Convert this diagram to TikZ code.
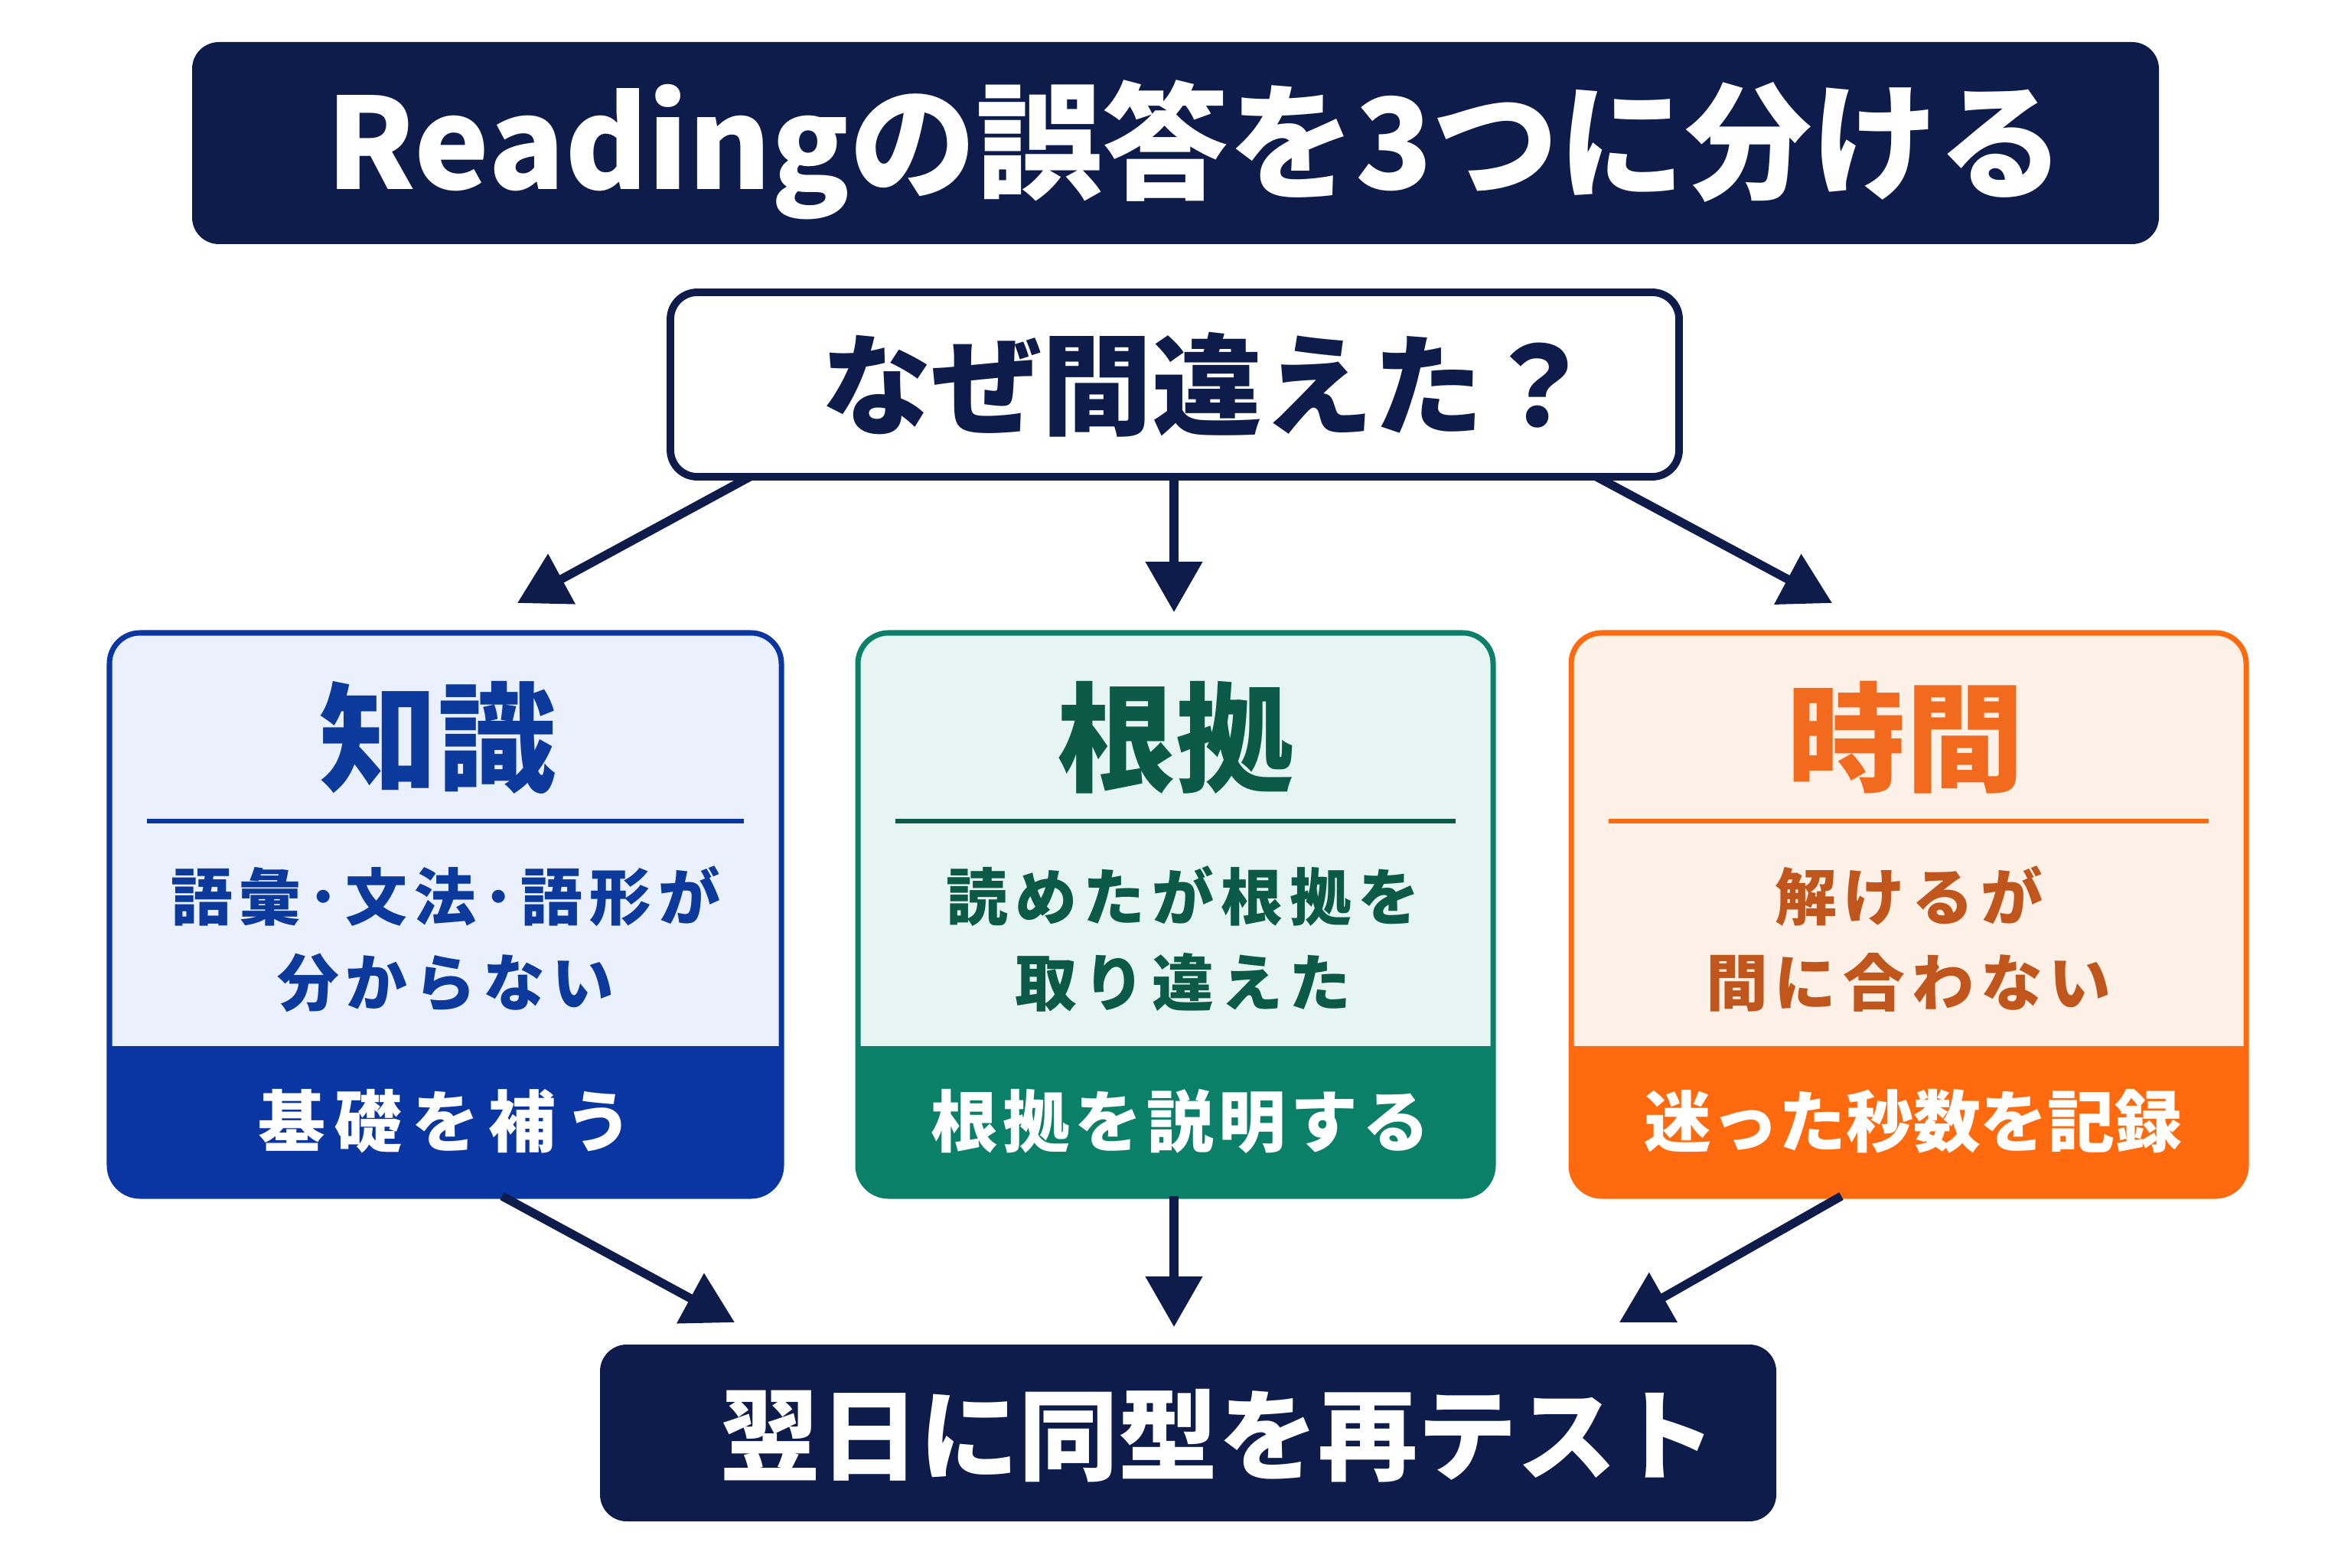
\documentclass[tikz,border=0pt]{standalone}
\usepackage{fontspec}
\setmainfont{Noto Sans CJK JP}
\newfontfamily\spacedfont{Noto Sans CJK JP}[LetterSpace=11]
\usetikzlibrary{arrows.meta,calc}

\definecolor{navy}{HTML}{0E1C4B}
\definecolor{kblue}{HTML}{0A36A3}
\definecolor{kblueT}{HTML}{0C3A9C}
\definecolor{kblueL}{HTML}{EAF1FC}
\definecolor{egreen}{HTML}{0B8069}
\definecolor{egreenT}{HTML}{0B5A47}
\definecolor{egreenL}{HTML}{E6F5F1}
\definecolor{torange}{HTML}{FF6A0E}
\definecolor{torangeT}{HTML}{F26A1E}
\definecolor{torangeB}{HTML}{C0561B}
\definecolor{torangeL}{HTML}{FDF0E7}

\begin{document}
\begin{tikzpicture}[
	flow/.style={line width=3.2pt, navy, -{Triangle[length=0.66cm,width=0.72cm]}},
	darkbox/.style={rounded corners=0.35cm, fill=navy, inner sep=0pt},
	catbox/.style={minimum height=7.36cm, inner sep=0pt, outer sep=0pt},
	cattitle/.style={font=\fontsize{44}{48}\bfseries\selectfont},
	catbody/.style={align=center, font=\spacedfont\fontsize{23}{31.8}\bfseries\selectfont},
	catband/.style={text=white, font=\fontsize{25}{28}\bfseries\selectfont},
	]
	\useasboundingbox (0,0) rectangle (30.72,20.48);
	\fill[white] (0,0) rectangle (30.72,20.48);

	% title and question
	\node[darkbox, minimum width=25.70cm, minimum height=2.64cm] (title) at (15.36,18.61) {};
	\node[text=white] (titleT) at (15.62,18.52)
		{\fontsize{47}{50}\bfseries\selectfont Readingの誤答を3つに分ける};
	\node[rounded corners=0.35cm, draw=navy, line width=2.8pt, fill=white,
		minimum width=13.18cm, minimum height=2.41cm] (why) at (15.35,15.455) {};
	\node[text=navy] (whyT) at (15.78,15.45)
		{\fontsize{41}{44}\bfseries\selectfont なぜ間違えた？};

	% knowledge box
	\node[catbox, minimum width=8.78cm] (chishiki) at (5.82,8.53) {};
	\fill[kblueL, rounded corners=0.4cm] (chishiki.south west) rectangle (chishiki.north east);
	\begin{scope}
		\clip[rounded corners=0.4cm] (chishiki.south west) rectangle (chishiki.north east);
		\fill[kblue] (chishiki.south west) rectangle ($(chishiki.south east)+(0,1.96)$);
	\end{scope}
	\draw[kblue, line width=2pt, rounded corners=0.4cm] (chishiki.south west) rectangle (chishiki.north east);
	\draw[kblue, line width=1.5pt] ($(chishiki.west)+(0.49,1.22)$) -- ($(chishiki.east)+(-0.49,1.22)$);
	\node[cattitle, text=kblueT] (chishikiT) at (5.72,10.84) {知識};
	\node[catbody, text=kblueT] (chishikiB) at (5.82,8.21) {語彙･文法･語形が\\分からない};
	\node[catband] (chishikiA) at (5.82,5.83) {\addfontfeature{LetterSpace=14}基礎を補う};

	% evidence box
	\node[catbox, minimum width=8.30cm] (konkyo) at (15.36,8.53) {};
	\fill[egreenL, rounded corners=0.4cm] (konkyo.south west) rectangle (konkyo.north east);
	\begin{scope}
		\clip[rounded corners=0.4cm] (konkyo.south west) rectangle (konkyo.north east);
		\fill[egreen] (konkyo.south west) rectangle ($(konkyo.south east)+(0,1.96)$);
	\end{scope}
	\draw[egreen, line width=2pt, rounded corners=0.4cm] (konkyo.south west) rectangle (konkyo.north east);
	\draw[egreenT, line width=1.5pt] ($(konkyo.west)+(0.49,1.22)$) -- ($(konkyo.east)+(-0.49,1.22)$);
	\node[cattitle, text=egreenT] (konkyoT) at (15.36,10.84) {根拠};
	\node[catbody, text=egreenT] (konkyoB) at (15.46,8.21) {読めたが根拠を\\取り違えた};
	\node[catband] (konkyoA) at (15.42,5.83) {\addfontfeature{LetterSpace=7}根拠を説明する};

	% time box
	\node[catbox, minimum width=8.82cm] (jikan) at (24.94,8.53) {};
	\fill[torangeL, rounded corners=0.4cm] (jikan.south west) rectangle (jikan.north east);
	\begin{scope}
		\clip[rounded corners=0.4cm] (jikan.south west) rectangle (jikan.north east);
		\fill[torange] (jikan.south west) rectangle ($(jikan.south east)+(0,1.96)$);
	\end{scope}
	\draw[torange, line width=2pt, rounded corners=0.4cm] (jikan.south west) rectangle (jikan.north east);
	\draw[torange, line width=1.5pt] ($(jikan.west)+(0.49,1.22)$) -- ($(jikan.east)+(-0.49,1.22)$);
	\node[cattitle, text=torangeT] (jikanT) at (24.90,10.84) {時間};
	\node[catbody, text=torangeB] (jikanB) at (24.94,8.21) {解けるが\\間に合わない};
	\node[catband] (jikanA) at (25.00,5.83) {迷った秒数を記録};

	% retest
	\node[darkbox, minimum width=15.37cm, minimum height=2.31cm] (retest) at (15.525,1.755) {};
	\node[text=white] (retestT) at (15.92,1.72)
		{\fontsize{37}{40}\bfseries\selectfont 翌日に同型を再テスト};

	% arrows
	\coordinate (whyL) at (9.80,14.25);
	\coordinate (whyM) at (15.34,14.25);
	\coordinate (whyR) at (20.86,14.25);
	\coordinate (inK) at (6.76,12.60);
	\coordinate (inE) at (15.34,12.48);
	\coordinate (inT) at (23.94,12.60);
	\draw[flow] (whyL) -- (inK);
	\draw[flow] (whyM) -- (inE);
	\draw[flow] (whyR) -- (inT);
	\coordinate (outK) at (6.56,4.85);
	\coordinate (outE) at (15.34,4.85);
	\coordinate (outT) at (24.06,4.85);
	\coordinate (reL) at (9.60,3.20);
	\coordinate (reM) at (15.34,3.14);
	\coordinate (reR) at (21.16,3.20);
	\draw[flow] (outK) -- (reL);
	\draw[flow] (outE) -- (reM);
	\draw[flow] (outT) -- (reR);
\end{tikzpicture}
\end{document}
